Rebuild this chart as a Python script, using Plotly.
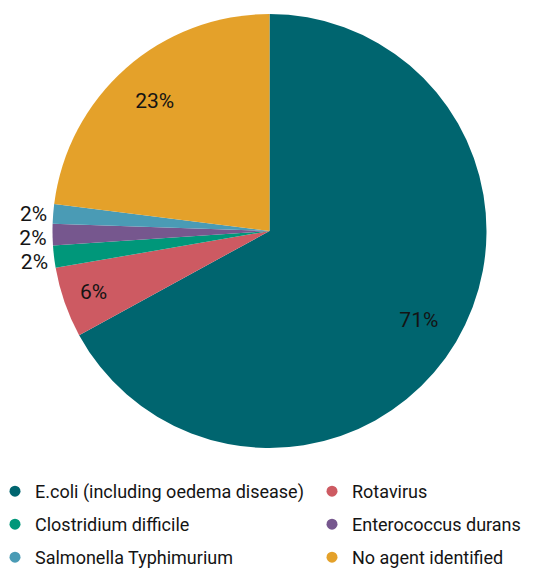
"""
Pie chart of diagnosed causes of diarrhoea, recreated with Plotly.
"""

import plotly.graph_objects as go

# Data read from the reference (slice sizes measured from the angles,
# printed labels as shown on the chart)
agents = ['E.coli (including oedema disease)', 'Rotavirus', 'Clostridium difficile',
          'Enterococcus durans', 'Salmonella Typhimurium', 'No agent identified']
shares = [67.0, 5.25, 1.65, 1.6, 1.45, 23.0]
labels = ['71%', '6%', '2%', '2%', '2%', '23%']
colors = ['#00656f', '#cd5a62', '#00977a', '#76578e', '#4a9bb5', '#e4a12a']
text_pos = ['inside', 'inside', 'outside', 'outside', 'outside', 'inside']

W, H = 546, 572
FONT = 'Roboto'
TXT = '#141414'

# pie sits in a square of 434 px, legend grid below it
dom_x = [52.5 / W, 486.5 / W]
top, bottom = 14, 124
plot_h = H - top - bottom

fig = go.Figure()

# slices
fig.add_trace(go.Pie(
    labels=agents,
    values=shares,
    textinfo='none',
    marker=dict(colors=colors, line=dict(width=0)),
    sort=False,
    direction='clockwise',
    rotation=0,
    showlegend=False,
    hoverinfo='label+percent',
    domain=dict(x=dom_x, y=[0, 1]),
))

# transparent ring on top, only to push the labels out towards the rim
fig.add_trace(go.Pie(
    labels=agents,
    values=shares,
    text=labels,
    textinfo='text',
    textposition=text_pos,
    insidetextorientation='horizontal',
    textfont=dict(family=FONT, size=21, color=TXT),
    marker=dict(colors=['rgba(0,0,0,0)'] * len(agents), line=dict(width=0)),
    hole=0.6,
    sort=False,
    direction='clockwise',
    rotation=0,
    showlegend=False,
    hoverinfo='skip',
    domain=dict(x=dom_x, y=[0, 1]),
))

# legend laid out as a 2 x 3 grid, one legend box per entry
row_px = [491.5, 524.5, 557.5]
col_px = [-5, 312]
legend_boxes = {}
for i, (name, color) in enumerate(zip(agents, colors)):
    key = 'legend' if i == 0 else f'legend{i + 1}'
    fig.add_trace(go.Scatter(
        x=[None], y=[None],
        mode='markers',
        name=name,
        marker=dict(color=color, size=11, symbol='circle'),
        showlegend=True,
        legend=key,
    ))
    row, col = divmod(i, 2)
    legend_boxes[key] = dict(
        x=col_px[col] / W, xanchor='left',
        y=(H - bottom - row_px[row]) / plot_h, yanchor='middle',
        font=dict(family=FONT, size=18, color=TXT),
        bgcolor='rgba(0,0,0,0)',
        itemwidth=30,
    )

fig.update_layout(
    width=W,
    height=H,
    margin=dict(l=0, r=0, t=top, b=bottom, autoexpand=False),
    paper_bgcolor='white',
    plot_bgcolor='white',
    xaxis=dict(visible=False),
    yaxis=dict(visible=False),
    font=dict(family=FONT, size=18, color=TXT),
    **legend_boxes,
)

# no page margin; the reference has no leader lines on the outside labels
post = """
document.body.style.margin = '0';
var s = document.createElement('style');
s.textContent = '.textline { display: none; }';
document.head.appendChild(s);
"""
fig.write_html("out.html", post_script=post, config={'displayModeBar': False})
